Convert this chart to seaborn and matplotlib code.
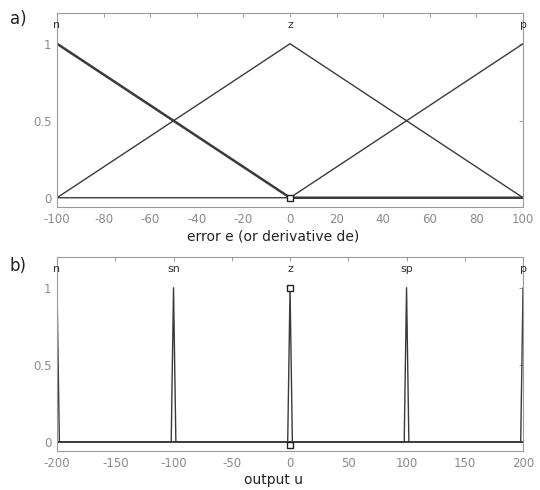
import numpy as np
import pandas as pd
import matplotlib
matplotlib.use("Agg")
import matplotlib.pyplot as plt
import seaborn as sns

# ---- data ----
e_x = [-100, 0, 100]
mf_names_a = ["n", "z", "p"]
mf_n = [1, 0, 0]
mf_z = [0, 1, 0]
mf_p = [0, 0, 1]

u_centers = [-200, -100, 0, 100, 200]
u_names = ["n", "sn", "z", "sp", "p"]
u_heights = [1, 1, 1, 1, 1]

xticks_a = [-100, -80, -60, -40, -20, 0, 20, 40, 60, 80, 100]
xticks_b = [-200, -150, -100, -50, 0, 50, 100, 150, 200]
yticks = [0, 0.5, 1]
ytick_labels = ["0", "0.5", "1"]

sns.set_style("white")
plt.rcParams['font.family'] = ['DejaVu Sans']

LINE = "#3a3a3a"
GRAY = "#8a8a8a"

fig = plt.figure(figsize=(5.4, 4.9), dpi=100)
ax1 = fig.add_axes([0.1056, 0.5776, 0.863, 0.396])
ax2 = fig.add_axes([0.1056, 0.0796, 0.863, 0.396])

# panel a
df_a = pd.DataFrame({
    "x": e_x * 3,
    "y": mf_n + mf_z + mf_p,
    "mf": sum([[m] * len(e_x) for m in mf_names_a], []),
})
for m, lw in zip(mf_names_a, [1.8, 1.0, 1.0]):
    sns.lineplot(data=df_a[df_a.mf == m], x="x", y="y", ax=ax1, color=LINE,
                 lw=lw, sort=False, estimator=None, legend=False)
ax1.plot([0], [0], marker="s", ms=5, mfc="white", mec="#222222", mew=1)
for m, xs, ys in zip(mf_names_a, [e_x] * 3, [mf_n, mf_z, mf_p]):
    i = int(np.argmax(ys))
    ax1.text(xs[i], 1.09, m, ha="center", va="bottom", fontsize=8, color="#333333")

ax1.set_xlim(-100, 100)
ax1.set_ylim(-0.06, 1.2)
ax1.set_xticks(xticks_a)
ax1.set_xticklabels([str(t) for t in xticks_a])
ax1.set_xlabel("error e (or derivative de)", fontsize=10, color="#222222")
ax1.xaxis.set_label_coords(0.464, -0.115)

# panel b
half_w = 2
rows = []
for c, name, h in zip(u_centers, u_names, u_heights):
    xs = [-200, c - half_w, c, c + half_w, 200]
    ys = [0, 0, h, 0, 0]
    for x, y in zip(xs, ys):
        rows.append({"x": x, "y": y, "mf": name + str(c)})
df_b = pd.DataFrame(rows)
for key in df_b.mf.unique():
    sns.lineplot(data=df_b[df_b.mf == key], x="x", y="y", ax=ax2, color=LINE,
                 lw=1.0, sort=False, estimator=None, legend=False)
ax2.plot([0], [1], marker="s", ms=5, mfc="white", mec="#222222", mew=1)
ax2.plot([0], [-0.02], marker="s", ms=5, mfc="white", mec="#222222", mew=1)
for c, name in zip(u_centers, u_names):
    ax2.text(c, 1.09, name, ha="center", va="bottom", fontsize=8, color="#333333")

ax2.set_xlim(-200, 200)
ax2.set_ylim(-0.06, 1.2)
ax2.set_xticks(xticks_b)
ax2.set_xticklabels([str(t) for t in xticks_b])
ax2.set_xlabel("output u", fontsize=10, color="#222222")
ax2.xaxis.set_label_coords(0.464, -0.115)

for ax in (ax1, ax2):
    ax.set_yticks(yticks)
    ax.set_yticklabels(ytick_labels)
    ax.set_ylabel("")
    ax.tick_params(direction="in", length=3, width=0.6, colors=GRAY,
                   labelsize=8.5, labelcolor=GRAY, top=True, right=True, pad=4)
    for s in ax.spines.values():
        s.set_color("#9a9a9a")
        s.set_linewidth(0.8)

fig.text(0.018, 0.962, "a)", fontsize=12, color="#222222", va="center")
fig.text(0.018, 0.457, "b)", fontsize=12, color="#222222", va="center")

fig.savefig("out.png", dpi=100)
